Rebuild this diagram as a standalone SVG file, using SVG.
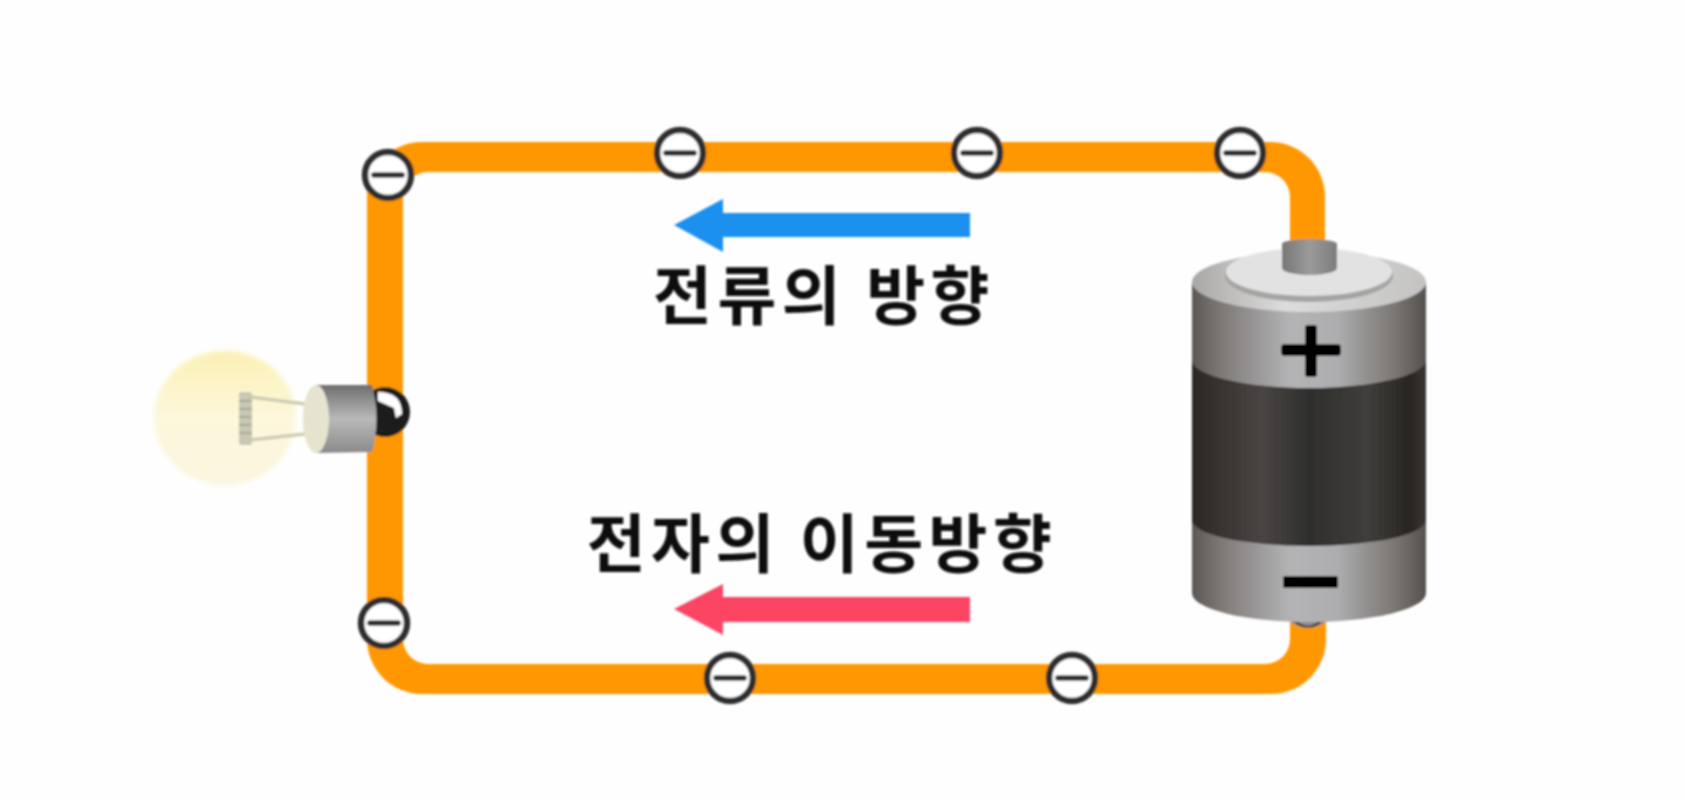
<svg xmlns="http://www.w3.org/2000/svg" width="1685" height="800" viewBox="0 0 1685 800">
<style>
.wire{fill:#ff9702}
.ering{fill:#fff;stroke:#2e2e2e;stroke-width:6.500}
.ebar{stroke:#2e2e2e;stroke-width:5.500;stroke-linecap:round}
.label{font-family:"Noto Sans CJK KR","Noto Sans",sans-serif;font-weight:700;font-size:64px;letter-spacing:5.500px;fill:#0d0d0d;text-anchor:middle}
</style>
<defs>
<filter id="soft" x="-5%" y="-5%" width="110%" height="110%"><feGaussianBlur stdDeviation="1"/></filter>
<filter id="glow" x="-20%" y="-20%" width="140%" height="140%"><feGaussianBlur stdDeviation="2"/></filter>
<linearGradient id="metal" x1="0" x2="1" y1="0" y2="0">
<stop offset="0" stop-color="#5b5754"/><stop offset=".12" stop-color="#7c7875"/><stop offset=".42" stop-color="#b4b4b6"/><stop offset=".62" stop-color="#adadaf"/><stop offset=".88" stop-color="#77736f"/><stop offset="1" stop-color="#55514d"/>
</linearGradient>
<linearGradient id="band" x1="0" x2="1" y1="0" y2="0">
<stop offset="0" stop-color="#2b2724"/><stop offset=".3" stop-color="#4a4543"/><stop offset=".5" stop-color="#2f2e2d"/><stop offset=".75" stop-color="#403d3b"/><stop offset=".93" stop-color="#282522"/><stop offset="1" stop-color="#3a3633"/>
</linearGradient>
<linearGradient id="cap" x1="0" x2="1" y1="0" y2="0">
<stop offset="0" stop-color="#a9a7a5"/><stop offset=".4" stop-color="#dcdcdc"/><stop offset="1" stop-color="#c4c3c2"/>
</linearGradient>
<linearGradient id="term" x1="0" x2="1" y1="0" y2="0">
<stop offset="0" stop-color="#777"/><stop offset=".5" stop-color="#9a9a9a"/><stop offset="1" stop-color="#7d7d7d"/>
</linearGradient>
<linearGradient id="bulbFill" x1="0" x2="0" y1="0" y2="1">
<stop offset="0" stop-color="#fbf1b4"/><stop offset=".5" stop-color="#fdf7dc"/><stop offset="1" stop-color="#fcf6e0"/>
</linearGradient>
<linearGradient id="socket" x1="0" x2="0" y1="0" y2="1">
<stop offset="0" stop-color="#6e6e6e"/><stop offset=".5" stop-color="#b9b9b9"/><stop offset="1" stop-color="#8a8a8a"/>
</linearGradient>
<g id="electron"><circle class="ering" r="23"/><line class="ebar" x1="-14" x2="14"/></g>
</defs>
<rect width="1685" height="800" fill="#fefefe"/>
<g filter="url(#soft)">
<g id="connectors">
<path class="wire" fill-rule="evenodd" d="M422 142H1270A55 55 0 0 1 1325 197V250H1290V197A25 25 0 0 0 1265 172H428A25 25 0 0 0 403 197V639A25 25 0 0 0 428 664H1265A25 25 0 0 0 1290 639V615H1326V639A55 55 0 0 1 1271 694H422A55 55 0 0 1 367 639V197A55 55 0 0 1 422 142Z"/>
</g>
<g id="electron-1"><use href="#electron" x="680" y="153"/></g>
<g id="electron-2"><use href="#electron" x="977" y="153"/></g>
<g id="electron-3"><use href="#electron" x="1240" y="153"/></g>
<g id="electron-4"><use href="#electron" x="388" y="175"/></g>
<g id="electron-5"><use href="#electron" x="384" y="623"/></g>
<g id="electron-6"><use href="#electron" x="730" y="678"/></g>
<g id="electron-7"><use href="#electron" x="1072" y="678"/></g>
<g id="battery">
<path d="M1290 612H1326V622Q1308 634 1290 622Z" fill="#8f8f8f"/>
<path d="M1294 618Q1308 634 1322 618L1322 622Q1308 633 1294 622Z" fill="#2b2b2b"/>
<path d="M1192 283V593A117 29 0 0 0 1426 593V283Z" fill="url(#metal)"/>
<path d="M1192 360A117 28 0 0 0 1426 360V520A117 26 0 0 1 1192 520Z" fill="url(#band)"/>
<ellipse cx="1309" cy="282" rx="117" ry="30" fill="url(#cap)"/>
<ellipse cx="1309" cy="276" rx="84" ry="26" fill="#a5a4a3"/>
<ellipse cx="1309" cy="272" rx="83" ry="24" fill="#e2e2e2"/>
<path d="M1282 244A27.500 5 0 0 1 1337 244V268A27.500 7 0 0 1 1282 268Z" fill="url(#term)"/>
<rect x="1305" y="325" width="12" height="52" rx="3" fill="#000"/>
<rect x="1281" y="344" width="60" height="12" rx="4" fill="#000"/>
<rect x="1283" y="576" width="55" height="12" rx="2" fill="#000"/>
</g>
<g id="bulb">
<ellipse cx="225" cy="418" rx="71" ry="67" fill="url(#bulbFill)" filter="url(#glow)"/>
<path d="M250 397L313 405M250 440L313 433" stroke="#cfcdb2" stroke-width="3.500" fill="none"/>
<rect x="239" y="392" width="13" height="53" rx="2" fill="#c9c8b4"/>
<path d="M239 401H252M239 409H252M239 417H252M239 425H252M239 433H252" stroke="#a9a894" stroke-width="2"/>
<circle cx="385" cy="412" r="25" fill="#1c1c1c"/>
<path d="M378 392Q402 392 402 414L396 418L394 408L378 401Z" fill="#fff"/>
<path d="M316 385H372Q381 418 372 452L316 453Z" fill="url(#socket)"/>
<ellipse cx="316" cy="419" rx="13" ry="34" fill="#e6e4cf"/>
</g>
<g id="current-arrow"><path d="M674 225L723 199V213H970V237H723V252Z" fill="#1e90ee"/></g>
<g id="electron-arrow"><path d="M674 609L723 584V597H970V622H723V635Z" fill="#fb4463"/></g>
<text id="current-label" class="label" x="824" y="319">전류의 방향</text>
<text id="electron-label" class="label" x="822" y="567">전자의 이동방향</text>
</g>
</svg>
